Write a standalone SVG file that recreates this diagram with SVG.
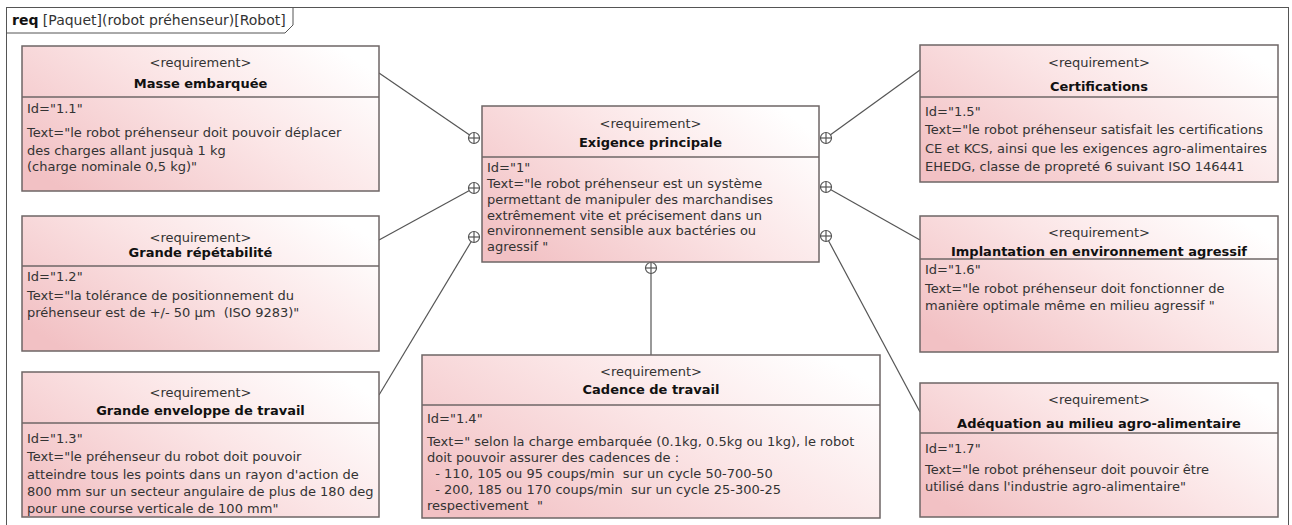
<svg xmlns="http://www.w3.org/2000/svg" width="1292" height="525" viewBox="0 0 1292 525">
<defs>
<linearGradient id="pink" x1="0" y1="0.8" x2="1" y2="0.2">
<stop offset="0" stop-color="#f2c1c4"/>
<stop offset="0.55" stop-color="#fbe5e6"/>
<stop offset="1" stop-color="#ffffff"/>
</linearGradient>
<g id="cp">
<circle r="5.5" fill="#ffffff" stroke="#555" stroke-width="1.2"/>
<line x1="-5.5" y1="0" x2="5.5" y2="0" stroke="#555" stroke-width="1.2"/>
<line x1="0" y1="-5.5" x2="0" y2="5.5" stroke="#555" stroke-width="1.2"/>
</g>
</defs>
<style>
text{font-family:"DejaVu Sans","Liberation Sans",sans-serif;font-size:13px;fill:#333;white-space:pre}
.st{text-anchor:middle}
.tt{text-anchor:middle;font-weight:bold;fill:#111}
.box{fill:url(#pink);stroke:#6e6666;stroke-width:1.5}
.div{stroke:#6e6666;stroke-width:1.5}
.conn{stroke:#555;stroke-width:1.2;fill:none}
.frame{fill:none;stroke:#555;stroke-width:1}
</style>
<rect width="1292" height="525" fill="#ffffff"/>
<g id="frame">
<rect class="frame" x="6.5" y="7.5" width="1282" height="530"/>
<path class="frame" d="M6.5,33 H285 L293,25 V7.5"/>
<text x="12" y="25" style="font-size:14px"><tspan font-weight="bold" fill="#111">req</tspan> [Paquet](robot préhenseur)[Robot]</text>
</g>
<g id="connectors">
<line class="conn" x1="379" y1="73" x2="474" y2="138"/>
<line class="conn" x1="379" y1="240" x2="474" y2="188"/>
<line class="conn" x1="379" y1="395" x2="474" y2="237"/>
<line class="conn" x1="651" y1="355" x2="651" y2="268"/>
<line class="conn" x1="920" y1="70" x2="826" y2="138"/>
<line class="conn" x1="920" y1="240" x2="826" y2="187"/>
<line class="conn" x1="920" y1="412" x2="826" y2="236"/>
<use href="#cp" x="474" y="138"/>
<use href="#cp" x="474" y="188"/>
<use href="#cp" x="474" y="237"/>
<use href="#cp" x="651" y="268"/>
<use href="#cp" x="826" y="138"/>
<use href="#cp" x="826" y="187"/>
<use href="#cp" x="826" y="236"/>
</g>
<g id="req-1">
<rect class="box" x="482" y="106" width="337" height="156"/>
<line class="div" x1="482" y1="157" x2="819" y2="157"/>
<text class="st" x="650.5" y="128">&lt;requirement&gt;</text>
<text class="tt" x="650.5" y="147">Exigence principale</text>
<text x="487" y="172">Id="1"</text>
<text x="487" y="188">Text="le robot préhenseur est un système</text>
<text x="487" y="204">permettant de manipuler des marchandises</text>
<text x="487" y="220">extrêmement vite et précisement dans un</text>
<text x="487" y="235">environnement sensible aux bactéries ou</text>
<text x="487" y="251">agressif "</text>
</g>
<g id="req-1-1">
<rect class="box" x="22" y="46" width="357" height="145"/>
<line class="div" x1="22" y1="97" x2="379" y2="97"/>
<text class="st" x="200.5" y="67">&lt;requirement&gt;</text>
<text class="tt" x="200.5" y="88">Masse embarquée</text>
<text x="27" y="113">Id="1.1"</text>
<text x="27" y="137">Text="le robot préhenseur doit pouvoir déplacer</text>
<text x="27" y="155">des charges allant jusquà 1 kg</text>
<text x="27" y="171">(charge nominale 0,5 kg)"</text>
</g>
<g id="req-1-2">
<rect class="box" x="22" y="216" width="357" height="135"/>
<line class="div" x1="22" y1="266" x2="379" y2="266"/>
<text class="st" x="200.5" y="242">&lt;requirement&gt;</text>
<text class="tt" x="200.5" y="257">Grande répétabilité</text>
<text x="27" y="281">Id="1.2"</text>
<text x="27" y="300">Text="la tolérance de positionnement du</text>
<text x="27" y="317">préhenseur est de +/- 50 µm  (ISO 9283)"</text>
</g>
<g id="req-1-3">
<rect class="box" x="22" y="372" width="357" height="145"/>
<line class="div" x1="22" y1="423" x2="379" y2="423"/>
<text class="st" x="200.5" y="397">&lt;requirement&gt;</text>
<text class="tt" x="200.5" y="415">Grande enveloppe de travail</text>
<text x="27" y="443">Id="1.3"</text>
<text x="27" y="461">Text="le préhenseur du robot doit pouvoir</text>
<text x="27" y="479">atteindre tous les points dans un rayon d'action de</text>
<text x="27" y="496">800 mm sur un secteur angulaire de plus de 180 deg</text>
<text x="27" y="513">pour une course verticale de 100 mm"</text>
</g>
<g id="req-1-4">
<rect class="box" x="422" y="355" width="458" height="163"/>
<line class="div" x1="422" y1="405" x2="880" y2="405"/>
<text class="st" x="651" y="376">&lt;requirement&gt;</text>
<text class="tt" x="651" y="394">Cadence de travail</text>
<text x="427" y="423">Id="1.4"</text>
<text x="427" y="446">Text=" selon la charge embarquée (0.1kg, 0.5kg ou 1kg), le robot</text>
<text x="427" y="462">doit pouvoir assurer des cadences de :</text>
<text x="427" y="478">  - 110, 105 ou 95 coups/min  sur un cycle 50-700-50</text>
<text x="427" y="494">  - 200, 185 ou 170 coups/min  sur un cycle 25-300-25</text>
<text x="427" y="510">respectivement  "</text>
</g>
<g id="req-1-5">
<rect class="box" x="920" y="45" width="358" height="137"/>
<line class="div" x1="920" y1="97" x2="1278" y2="97"/>
<text class="st" x="1099" y="67">&lt;requirement&gt;</text>
<text class="tt" x="1099" y="91">Certifications</text>
<text x="925" y="116">Id="1.5"</text>
<text x="925" y="134">Text="le robot préhenseur satisfait les certifications</text>
<text x="925" y="153">CE et KCS, ainsi que les exigences agro-alimentaires</text>
<text x="925" y="171">EHEDG, classe de propreté 6 suivant ISO 146441</text>
</g>
<g id="req-1-6">
<rect class="box" x="920" y="216" width="358" height="136"/>
<line class="div" x1="920" y1="259" x2="1278" y2="259"/>
<text class="st" x="1099" y="237">&lt;requirement&gt;</text>
<text class="tt" x="1099" y="256">Implantation en environnement agressif</text>
<text x="925" y="274">Id="1.6"</text>
<text x="925" y="293">Text="le robot préhenseur doit fonctionner de</text>
<text x="925" y="310">manière optimale même en milieu agressif "</text>
</g>
<g id="req-1-7">
<rect class="box" x="920" y="383" width="358" height="134"/>
<line class="div" x1="920" y1="433" x2="1278" y2="433"/>
<text class="st" x="1099" y="404">&lt;requirement&gt;</text>
<text class="tt" x="1099" y="428">Adéquation au milieu agro-alimentaire</text>
<text x="925" y="453">Id="1.7"</text>
<text x="925" y="474">Text="le robot préhenseur doit pouvoir être</text>
<text x="925" y="491">utilisé dans l'industrie agro-alimentaire"</text>
</g>
</svg>
